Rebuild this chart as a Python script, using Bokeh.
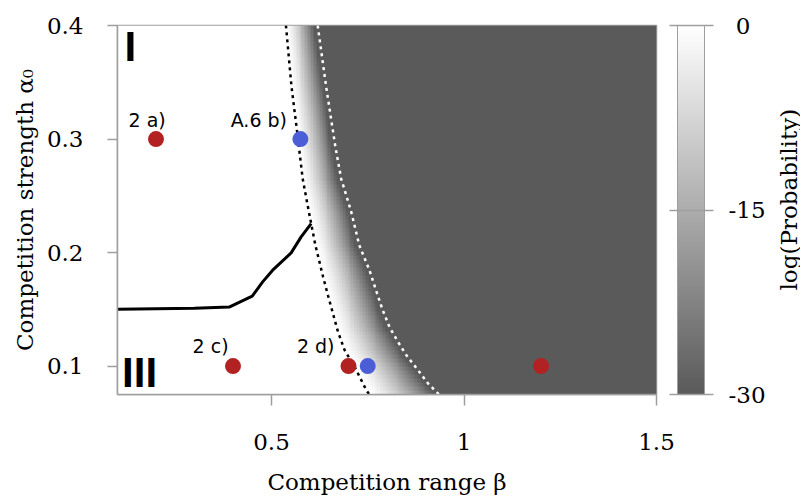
import numpy as np
from bokeh.plotting import figure
from bokeh.layouts import row
from bokeh.models import Range1d, FixedTicker, LinearColorMapper, ColorBar
from bokeh.core.properties import value
from bokeh.embed import file_html
from bokeh.resources import INLINE

# ---------------- data ----------------
beta_ticks = [0.5, 1.0, 1.5]
beta_tick_labels = {0.5: "0.5", 1: "1", 1.5: "1.5"}
alpha_ticks = [0.1, 0.2, 0.3, 0.4]
cbar_ticks = [-30, -15, 0]
cbar_tick_labels = {-30: "-30", -15: "-15", 0: "\u00a00"}

# solid transition line
trans_beta = [0.1, 0.2, 0.3, 0.39, 0.45, 0.477, 0.503, 0.551, 0.577, 0.603]
trans_alpha = [0.150, 0.1505, 0.151, 0.152, 0.1616, 0.1742, 0.1845, 0.1997, 0.2138, 0.2255]

# black dotted boundary (start of low-probability region)
bd_alpha = [0.4, 0.346, 0.308, 0.265, 0.236, 0.2065, 0.1786, 0.1624, 0.1464, 0.1302, 0.1141, 0.0994, 0.0789, 0.075]
bd_beta = [0.5375, 0.552, 0.566, 0.581, 0.597, 0.614, 0.634, 0.6466, 0.6596, 0.6727, 0.6899, 0.7159, 0.7461, 0.754]

# white dotted boundary
wd_alpha = [0.4, 0.346, 0.293, 0.265, 0.236, 0.2065, 0.1845, 0.1669, 0.1493, 0.1346, 0.1214, 0.1097, 0.0965, 0.0848, 0.075]
wd_beta = [0.620, 0.642, 0.666, 0.681, 0.707, 0.728, 0.7544, 0.7714, 0.7888, 0.8062, 0.8284, 0.85, 0.8805, 0.9065, 0.935]

# marked parameter sets
red_beta = [0.2, 0.4, 0.7, 1.2]
red_alpha = [0.3, 0.1, 0.1, 0.1]
blue_beta = [0.575, 0.75]
blue_alpha = [0.3, 0.1]

point_labels = ["2 a)", "A.6 b)", "2 c)", "2 d)"]
point_label_beta = [0.1286, 0.394, 0.295, 0.566]
point_label_alpha = [0.317, 0.317, 0.1179, 0.1179]

region_labels = ["I", "III"]
region_label_beta = [0.118, 0.112]
region_label_alpha = [0.3816, 0.0945]

# ---------------- heat map of log(Probability) ----------------
x0, x1 = 0.1, 1.5
y0, y1 = 0.075, 0.4
nx, ny = 187, 93
bc = x0 + (np.arange(nx) + 0.5) * (x1 - x0) / nx
ac = y0 + (np.arange(ny) + 0.5) * (y1 - y0) / ny
bd_a = np.array(bd_alpha[::-1]); bd_b = np.array(bd_beta[::-1])
wd_a = np.array(wd_alpha[::-1]); wd_b = np.array(wd_beta[::-1])
logp = np.zeros((ny, nx))
for j, a in enumerate(ac):
    b1 = np.interp(a, bd_a, bd_b)
    b2 = np.interp(a, wd_a, wd_b) - 0.01
    t = np.clip((bc - b1) / (b2 - b1), 0, 1)
    logp[j, :] = -30.0 * t ** 1.4

grays = []
for i in range(256):
    g = int(round(90 + (255 - 90) * i / 255))
    grays.append("#%02x%02x%02x" % (g, g, g))
mapper = LinearColorMapper(palette=grays, low=-30, high=0)

# ---------------- main figure ----------------
SERIF = "DejaVu Serif"
AX = "#9e9e9e"
p = figure(width=770, height=500, x_range=Range1d(x0, x1), y_range=Range1d(y0, y1),
           output_backend="svg", toolbar_location=None,
           min_border_left=117, min_border_right=114, min_border_top=25, min_border_bottom=106,
           x_axis_label="Competition range β", y_axis_label="Competition strength α₀")
p.grid.visible = False
p.outline_line_color = AX
p.outline_line_width = 1.5
p.background_fill_color = "white"
p.border_fill_color = "white"

p.image(image=[logp], x=x0, y=y0, dw=x1 - x0, dh=y1 - y0, color_mapper=mapper)

p.line(bd_beta, bd_alpha, line_color="black", line_width=2.5, line_dash="3 4")
p.line(wd_beta, wd_alpha, line_color="white", line_width=2.5, line_dash="3 4")
p.line(trans_beta, trans_alpha, line_color="black", line_width=3)

p.scatter(red_beta, red_alpha, size=16, fill_color="#b22222", line_color=None)
p.scatter(blue_beta, blue_alpha, size=16, fill_color="#4b5ed7", line_color=None)

p.text(x=point_label_beta, y=point_label_alpha, text=point_labels,
       text_font=value("DejaVu Sans"), text_font_size="19px", text_color="black",
       text_align="left", text_baseline="alphabetic")
p.text(x=region_label_beta, y=region_label_alpha, text=region_labels,
       text_font=value("Liberation Sans"), text_font_style="bold", text_font_size="42px",
       text_color="black", text_align="left", text_baseline="alphabetic")

p.xaxis.ticker = FixedTicker(ticks=beta_ticks)
p.xaxis.major_label_overrides = beta_tick_labels
p.yaxis.ticker = FixedTicker(ticks=alpha_ticks)
for ax in (p.xaxis[0], p.yaxis[0]):
    ax.axis_line_color = AX
    ax.axis_line_width = 1.5
    ax.major_tick_line_color = AX
    ax.major_tick_line_width = 1.5
    ax.major_tick_in = 0
    ax.minor_tick_line_color = None
    ax.major_label_text_font = SERIF
    ax.major_label_text_font_size = "23px"
    ax.major_label_text_color = "black"
    ax.axis_label_text_font = SERIF
    ax.axis_label_text_font_size = "23px"
    ax.axis_label_text_font_style = "normal"
    ax.axis_label_text_color = "black"
p.xaxis.major_tick_out = 11
p.xaxis.major_label_standoff = 28
p.xaxis.axis_label_standoff = 16
p.yaxis.major_tick_out = 10
p.yaxis.major_label_standoff = 24
p.yaxis.axis_label_standoff = 6

cb = ColorBar(color_mapper=mapper, ticker=FixedTicker(ticks=cbar_ticks),
              major_label_overrides=cbar_tick_labels,
              width=27, height=369, location=(21, 0), padding=0, margin=0,
              major_tick_in=35, major_tick_out=9,
              major_tick_line_color=AX, major_tick_line_width=1.5,
              bar_line_color=AX, bar_line_width=1,
              label_standoff=15, major_label_text_font=SERIF,
              major_label_text_font_size="23px", major_label_text_color="black",
              border_line_color=None, background_fill_alpha=0)
p.add_layout(cb, "right")

# ---------------- narrow strip carrying the colour-bar title ----------------
q = figure(width=30, height=500, x_range=Range1d(0, 30), y_range=Range1d(500, 0),
           output_backend="svg", toolbar_location=None,
           x_axis_location=None, y_axis_location=None,
           min_border_left=0, min_border_right=0, min_border_top=0, min_border_bottom=0)
q.grid.visible = False
q.outline_line_color = None
q.background_fill_color = "white"
q.border_fill_color = "white"
q.text(x=[18], y=[236], text=["log(Probability)"], angle=np.pi / 2,
       text_align="center", text_baseline="middle",
       text_font=value(SERIF), text_font_size="23px", text_color="black")

layout = row(p, q, spacing=0)
open("out.html", "w").write(file_html(layout, INLINE))
